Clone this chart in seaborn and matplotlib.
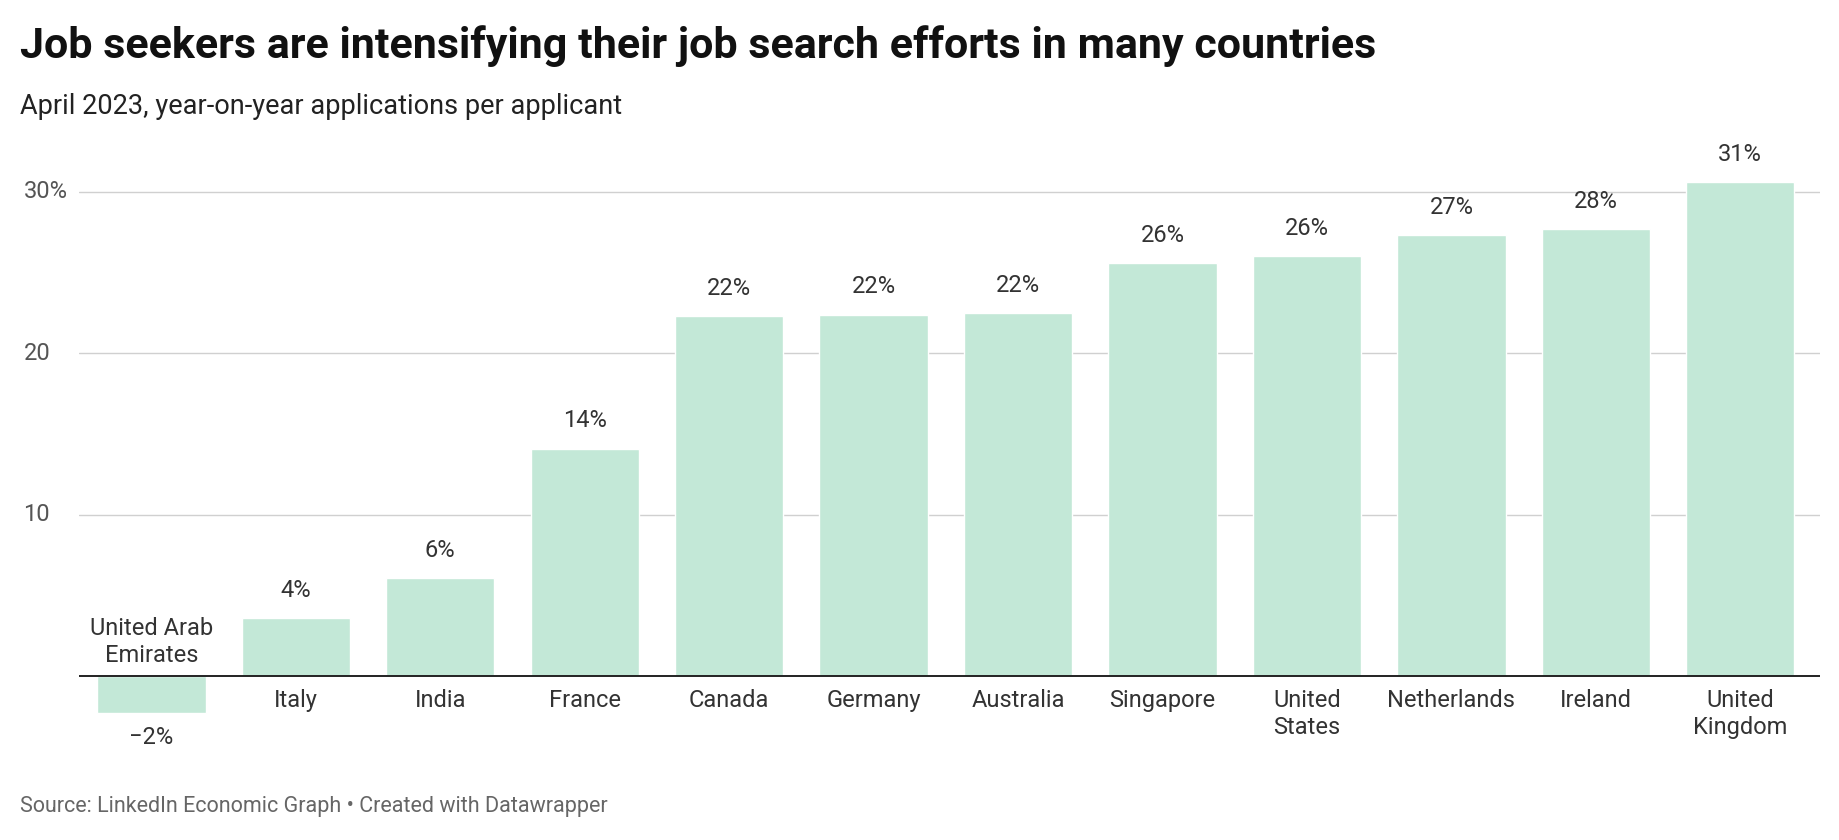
import matplotlib.pyplot as plt
import seaborn as sns
import pandas as pd

countries = ['United Arab\nEmirates', 'Italy', 'India', 'France', 'Canada', 'Germany',
             'Australia', 'Singapore', 'United\nStates', 'Netherlands', 'Ireland', 'United\nKingdom']
values = [-2.3, 3.6, 6.1, 14.1, 22.3, 22.4, 22.5, 25.6, 26.0, 27.3, 27.7, 30.6]
labels = ['−2%', '4%', '6%', '14%', '22%', '22%', '22%', '26%', '26%', '27%', '28%', '31%']
yticks = [10, 20, 30]
ytick_labels = ['10', '20', '30%']

df = pd.DataFrame({'country': countries, 'value': values})

sns.set_style('white')
plt.rcParams['font.family'] = ['Roboto', 'DejaVu Sans']

fig = plt.figure(figsize=(18.4, 8.4), dpi=100)
ax = fig.add_axes([0.043, 0.145, 0.946, 0.665])
sns.barplot(data=df, x='country', y='value', color='#c3e8d7', saturation=1, width=0.75, ax=ax)
ax.set_ylim(-2.6, 32)
ax.set_xlim(-0.5, len(countries) - 0.45)
ax.set_yticks([])
ax.set_xticks([])
ax.set_xlabel('')
ax.set_ylabel('')
for s in ax.spines.values():
    s.set_visible(False)
for t, tl in zip(yticks, ytick_labels):
    ax.axhline(t, color='#d0d0d0', lw=1, zorder=0)
    ax.text(-0.032, t, tl, transform=ax.get_yaxis_transform(), ha='left', va='center',
            fontsize=17, color='#555555', clip_on=False)
ax.axhline(0, color='#222222', lw=1.4, zorder=3)

for i, (c, v, l) in enumerate(zip(countries, values, labels)):
    if v >= 0:
        ax.text(i, v + 1.0, l, ha='center', va='bottom', fontsize=17, color='#333333')
        ax.text(i, -0.8, c, ha='center', va='top', fontsize=17, color='#333333', linespacing=1.2)
    else:
        ax.text(i, v - 0.8, l, ha='center', va='top', fontsize=17, color='#333333')
        ax.text(i, 0.6, c, ha='center', va='bottom', fontsize=17, color='#333333', linespacing=1.2)

fig.text(0.011, 0.945, 'Job seekers are intensifying their job search efforts in many countries',
         fontsize=31, fontweight='bold', color='#111111', va='center')
fig.text(0.011, 0.873, 'April 2023, year-on-year applications per applicant',
         fontsize=19.5, color='#222222', va='center')
fig.text(0.011, 0.04, 'Source: LinkedIn Economic Graph • Created with Datawrapper',
         fontsize=15.5, color='#666666', va='center')

fig.savefig('out.png', dpi=100)
